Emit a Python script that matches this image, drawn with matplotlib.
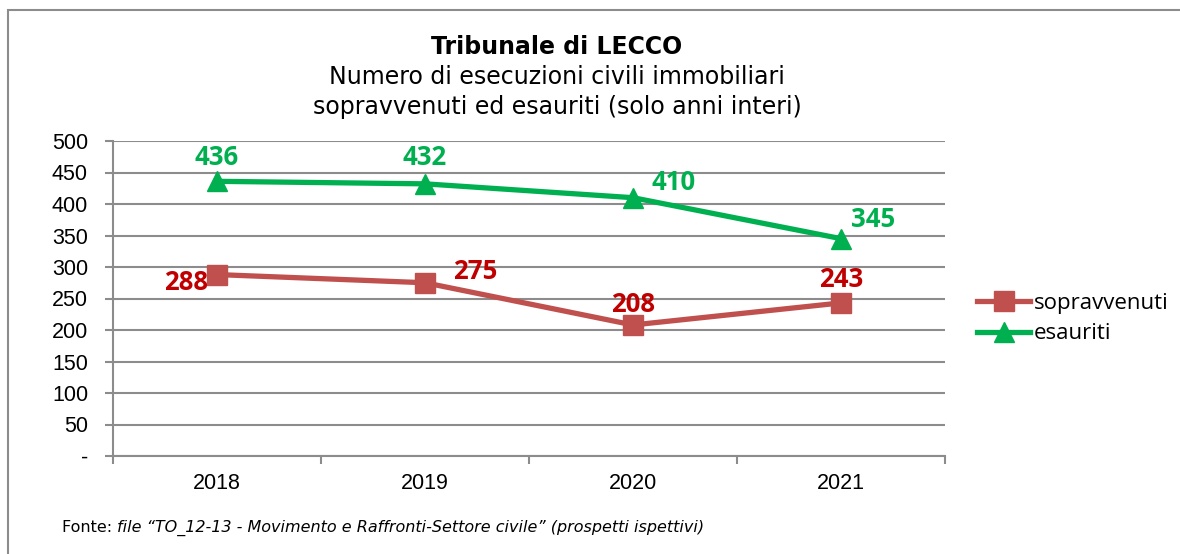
import matplotlib
matplotlib.use("Agg")
import matplotlib.pyplot as plt
from matplotlib.patches import Rectangle

years = ["2018", "2019", "2020", "2021"]
sopravvenuti = [288, 275, 208, 243]
esauriti = [436, 432, 410, 345]
yticks = [0, 50, 100, 150, 200, 250, 300, 350, 400, 450, 500]
ytick_labels = ["-", "50", "100", "150", "200", "250", "300", "350", "400", "450", "500"]

fig = plt.figure(figsize=(11.8, 5.54), dpi=100)
fig.patch.set_facecolor("white")
fig.patches.append(Rectangle((8/1180, -0.05), 1.2, 1 - 10/554 + 0.05, transform=fig.transFigure,
                             fill=False, edgecolor="#8c8c8c", linewidth=1.5))

ax = fig.add_axes([113/1180, 1 - 456/554, 832/1180, 315/554])
x = list(range(len(years)))
red_line = "#C0504D"
green = "#00B050"
ax.plot(x, sopravvenuti, color=red_line, lw=3.8, marker="s", ms=14, label="sopravvenuti", zorder=3)
ax.plot(x, esauriti, color=green, lw=3.8, marker="^", ms=14, label="esauriti", zorder=3)

ax.set_xlim(-0.5, 3.5)
ax.set_ylim(0, 500)
ax.set_yticks(yticks)
ax.set_yticklabels(ytick_labels, fontfamily="Liberation Sans", fontsize=15.5)
ax.yaxis.grid(True, color="#8c8c8c", lw=1.5)
ax.set_axisbelow(True)
ax.set_xticks([-0.5, 0.5, 1.5, 2.5, 3.5])
ax.set_xticklabels([])
ax.set_xticks(x, minor=True)
ax.set_xticklabels(years, minor=True, fontfamily="Liberation Sans", fontsize=15.5)
ax.tick_params(axis="x", which="minor", length=0, pad=12)
ax.tick_params(axis="x", which="major", length=6, width=1.5, color="#8c8c8c")
ax.tick_params(axis="y", length=6, width=1.5, color="#8c8c8c", pad=12)
for s in ["top", "right"]:
    ax.spines[s].set_visible(False)
for s in ["left", "bottom"]:
    ax.spines[s].set_color("#8c8c8c")
    ax.spines[s].set_linewidth(1.5)

lab_font = dict(fontfamily="Open Sans", fontweight="bold", fontsize=18.5)
green_off = [(0, 17), (0, 19), (29, 11), (23, 14)]
red_off = [(-22, -6), (36, 8), (0, 15), (0, 17)]
for i in x:
    ax.annotate(str(esauriti[i]), (i, esauriti[i]), xytext=green_off[i], textcoords="offset points",
                ha="center", va="center", color=green, **lab_font)
    ax.annotate(str(sopravvenuti[i]), (i, sopravvenuti[i]), xytext=red_off[i], textcoords="offset points",
                ha="center", va="center", color="#C00000", **lab_font)

leg = fig.legend(loc="upper left", bbox_to_anchor=(966/1180, 1 - 282/554), frameon=False,
                 prop=dict(family="Open Sans", size=16), handlelength=2.4, handletextpad=0.15,
                 labelspacing=0.42, borderpad=0)

title_kw = dict(ha="center", va="center", fontfamily="DejaVu Sans", fontsize=17)
fig.text(557/1180, 1 - 47/554, "Tribunale di LECCO", fontweight="bold", **title_kw)
fig.text(557/1180, 1 - 77/554, "Numero di esecuzioni civili immobiliari", **title_kw)
fig.text(557/1180, 1 - 107/554, "sopravvenuti ed esauriti (solo anni interi)", **title_kw)
t1 = fig.text(62/1180, 1 - 528/554, "Fonte: ", ha="left", va="center", fontfamily="DejaVu Sans", fontsize=11.5)
fig.canvas.draw()
bb = t1.get_window_extent()
fig.text(bb.x1 / 1180, 1 - 528/554, "file \u201cTO_12-13 - Movimento e Raffronti-Settore civile\u201d (prospetti ispettivi)",
         ha="left", va="center", fontfamily="DejaVu Sans", fontstyle="italic", fontsize=11.5)

fig.savefig("out.png", dpi=100)
